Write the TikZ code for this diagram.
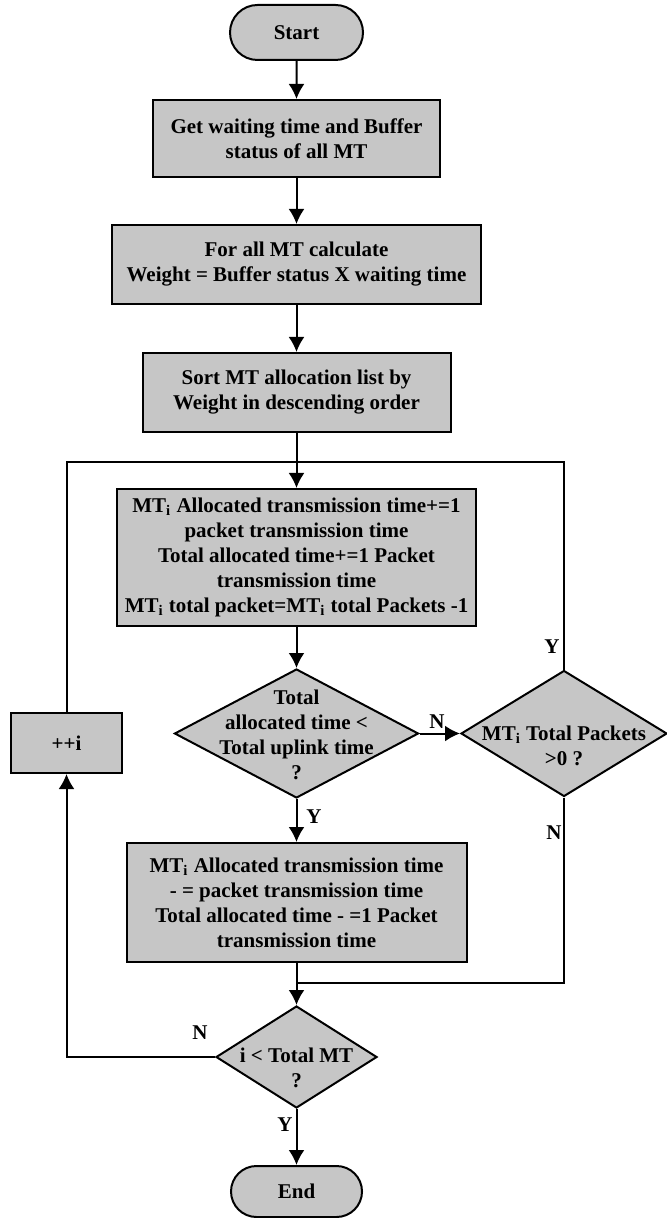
\documentclass[tikz,border=0pt]{standalone}
\usepackage{fontspec}
\setmainfont{Liberation Serif}
\usetikzlibrary{arrows.meta,shapes.geometric,shapes.misc}

\tikzset{
  box/.style={draw, line width=1pt, fill=gray!45, align=center, inner sep=0pt},
  term/.style={box, rounded rectangle},
  decide/.style={draw, line width=1pt, fill=gray!45, diamond, inner sep=0pt},
  flow/.style={line width=1pt, -{Latex[length=7.5pt,width=8pt]}},
  plain/.style={line width=1pt},
  tag/.style={inner sep=0pt}
}

\begin{document}
\begin{tikzpicture}[x=0.5pt, y=-0.5pt, font=\fontsize{10.5}{12.5}\selectfont\bfseries]
\useasboundingbox (0,0) rectangle (666,1218);

% Main column
\node[term, minimum width=66.5pt, minimum height=27.5pt] (start) at (296.5,32.5) {Start};
\node[box, minimum width=143.5pt, minimum height=38.5pt] (getwait) at (296.5,138.5) {Get waiting time and Buffer\\status of all MT};
\node[box, minimum width=184.5pt, minimum height=39.5pt] (weight) at (296.5,264.5) {For all MT calculate\\Weight = Buffer status X waiting time};
\node[box, minimum width=154pt, minimum height=39.5pt] (sortlist) at (296.5,392.5) {Sort MT allocation list by\\Weight in descending order};
\node[box, minimum width=179.5pt, minimum height=68.5pt] (alloc) at (296.5,557.5) {MT\textsubscript{i} Allocated transmission time+=1\\packet transmission time\\Total allocated time+=1 Packet\\transmission time\\MT\textsubscript{i} total packet=MT\textsubscript{i} total Packets -1};

% Decisions
\node[decide, minimum width=122pt, minimum height=64.5pt] (chktime) at (296.5,733.5) {};
\node[tag, align=center] (chktimetxt) at (296.5,735) {Total\\allocated time <\\Total uplink time\\?};
\node[decide, minimum width=103pt, minimum height=63pt] (chkpkt) at (564,733.5) {};
\node[tag, align=center] (chkpkttxt) at (564,746) {MT\textsubscript{i} Total Packets\\>0 ?};

\node[box, minimum width=55.5pt, minimum height=30pt] (inc) at (66.5,743) {++i};
\node[box, minimum width=170pt, minimum height=59.5pt] (undo) at (296.5,902.5) {MT\textsubscript{i} Allocated transmission time\\- = packet transmission time\\Total allocated time - =1 Packet\\transmission time};

\node[decide, minimum width=80.5pt, minimum height=51pt] (chkmt) at (296.5,1057) {};
\node[tag, align=center] (chkmttxt) at (296.5,1068) {i < Total MT\\?};
\node[term, minimum width=65.5pt, minimum height=25.5pt] (stop) at (296.5,1191.5) {End};

% Join points
\coordinate (loopjoin) at (296.5,462);
\coordinate (merge) at (296.5,983);

% Connectors
\draw[flow] (start) -- (getwait);
\draw[flow] (getwait) -- (weight);
\draw[flow] (weight) -- (sortlist);
\draw[flow] (sortlist) -- (alloc);
\draw[flow] (alloc) -- (chktime);
\draw[flow] (chktime.east) -- (chkpkt.west);
\draw[flow] (chktime.south) -- (undo.north);
\draw[flow] (undo.south) -- (chkmt.north);
\draw[flow] (chkmt.south) -- (stop.north);
\draw[plain] (chkpkt.south) |- (merge);
\draw[plain] (chkpkt.north) |- (loopjoin);
\draw[plain] (inc.north) |- (loopjoin);
\draw[flow] (chkmt.west) -| (inc.south);

% Y / N labels
\node[tag] (ypkt) at (552,647) {Y};
\node[tag] (ntime) at (437,722) {N};
\node[tag] (ytime) at (314,817) {Y};
\node[tag] (npkt) at (554,833) {N};
\node[tag] (nmt) at (200,1033) {N};
\node[tag] (ymt) at (285,1125) {Y};
\end{tikzpicture}
\end{document}
